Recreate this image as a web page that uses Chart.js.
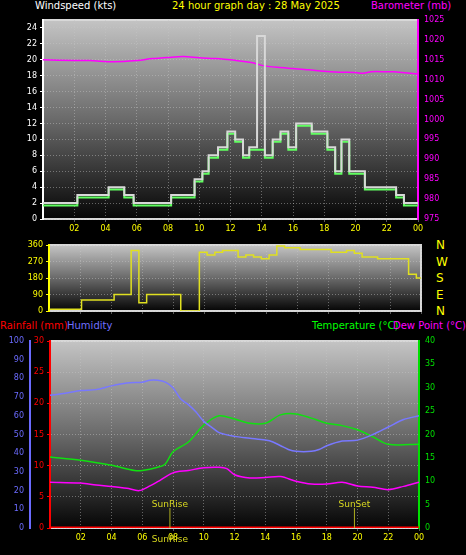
<!DOCTYPE html>
<html><head><meta charset="utf-8">
<script src="https://cdn.jsdelivr.net/npm/chart.js@4/dist/chart.umd.min.js"></script>
<style>
body{margin:0;background:#000;width:466px;height:555px;overflow:hidden;position:relative;font-family:"DejaVu Sans",sans-serif}
.c{position:absolute;left:0}
.t{position:absolute;font-size:10px;white-space:nowrap}
</style></head><body>
<div class="t" style="left:35px;top:0px;color:#fff">Windspeed (kts)</div>
<div class="t" style="left:172px;top:0px;color:#ffff00">24 hour graph day : 28 May 2025</div>
<div class="t" style="left:371px;top:0px;color:#ff00ff">Barometer (mb)</div>
<div class="t" style="left:0px;top:320px;color:#ff0000">Rainfall (mm)</div>
<div class="t" style="left:67px;top:320px;color:#7070ff">Humidity</div>
<div class="t" style="left:312px;top:320px;color:#00ff00">Temperature (°C)</div>
<div class="t" style="left:393px;top:320px;color:#ff00ff">Dew Point (°C)</div>
<div class="t" style="left:436px;top:237px;color:#ffff00;font-size:12px;line-height:16.5px">N<br>W<br>S<br>E<br>N</div>
<div class="c" style="top:0;width:466px;height:240px"><canvas id="c1"></canvas></div>
<div class="c" style="top:235px;width:466px;height:85px"><canvas id="c2"></canvas></div>
<div class="c" style="top:333px;width:466px;height:222px"><canvas id="c3"></canvas></div>
<script>
const windTimes=[0,2.2,4.2,5.2,5.8,8.2,9.7,10.2,10.6,11.2,11.8,12.3,12.8,13.2,14.2,14.7,15.2,15.7,16.2,17.2,18.2,18.7,19.1,19.6,20.6,22.6,23.1,24];
const windAvg=[1.7,2.7,3.7,2.7,1.7,2.7,4.7,5.7,7.7,8.7,10.7,9.7,7.7,8.7,7.7,9.7,10.7,8.7,11.7,10.7,8.7,5.7,9.7,5.7,3.7,2.7,1.7,1.7];
const gustTimes=[0,2.2,4.2,5.2,5.8,8.2,9.7,10.2,10.6,11.2,11.8,12.3,12.8,13.2,13.7,14.2,14.7,15.2,15.7,16.2,17.2,18.2,18.7,19.1,19.6,20.6,22.6,23.1,24];
const windGust=[2,3,4,3,2,3,5,6,8,9,11,10,8,9,23,8,10,11,9,12,11,9,6,10,6,4,3,2,2];
const baroTimes=[0,2,3,4.5,6,7,8,9,10,11,12,13,13.5,14,15,16,17,18,19,20,20.5,21,22,22.5,23,24];
const baroVals=[1015,1014.8,1014.8,1014.5,1014.8,1015.3,1015.6,1015.8,1015.5,1015.3,1015,1014.5,1014.2,1013.6,1013.1,1012.8,1012.5,1012.1,1011.9,1011.8,1011.6,1012,1012,1012,1011.8,1011.4];
const dirTimes=[0,2.1,4.2,5.3,5.8,6.3,8.5,9.7,10.2,10.7,11.2,12.2,12.7,13.2,13.7,14.2,14.7,15.2,16.2,18.2,19.2,19.7,20.2,21.2,23.2,23.7,24];
const dirVals=[10,60,90,330,45,90,0,320,305,320,330,295,305,295,285,305,355,345,335,320,330,315,295,285,200,180,180];
const humTimes=[0,1,2,3,4,5,6,6.5,7,7.5,8,8.5,9,9.5,10,10.5,11,12,13,14,14.5,15,15.5,16,17,17.5,18,19,20,21,22,23,24];
const humVals=[71,72,73.5,74,76,77.5,78,79,79,78,75,69,66,62,57,54,51,49,48,47,46,44,42,41,41,42,44,46.5,47,50,54,58,60];
const tempTimes=[0,2,4,5.5,6,7,7.5,8,9,10,11,12,13,14,15,16,17,18,19,20,21,22,24];
const tempVals=[15.2,14.5,13.4,12.3,12.3,13,13.7,16.3,18.4,22,24,23.3,22.4,22.4,24.2,24.4,23.5,22.4,21.9,21,19.5,17.9,17.9];
const dewTimes=[0,2,3,4,5,5.8,6.5,7,8,9,10,11,11.5,12,13,14,15,16,17,18,19,20,21,22,23,24];
const dewVals=[9.8,9.6,9.2,8.9,8.5,8,9,9.9,11.8,12.3,12.9,13,12.7,11.4,10.7,10.8,11,10,9.4,9.4,9.8,9,8.7,8.2,8.9,9.8];
const rainTimes=[0,24];
const rainVals=[0,0];
const hourTicks=[2,4,6,8,10,12,14,16,18,20,22,24];
const windTicks=[0,2,4,6,8,10,12,14,16,18,20,22,24];
const sunEvents=[7.8,19.8];
const sunLabels=['SunRise','SunSet'];

const pts=(t,v)=>t.map((x,i)=>({x,y:v[i]}));
const hourLbl=v=>(v>0&&v%2===0)?String(v%24).padStart(2,'0'):'';
const bg={id:'bg',beforeDraw(c){const a=c.chartArea,x=c.ctx;const g=x.createLinearGradient(0,a.top,0,a.bottom);g.addColorStop(0,'#c4c4c4');g.addColorStop(0.5,'#6a6a6a');g.addColorStop(1,'#050505');x.save();x.fillStyle=g;x.fillRect(a.left,a.top,a.right-a.left,a.bottom-a.top);x.strokeStyle='#d8d8d8';x.lineWidth=2;x.strokeRect(a.left,a.top,a.right-a.left,a.bottom-a.top);x.restore();}};
const F={family:'DejaVu Sans',size:8};
const grid={color:'rgba(200,200,200,0.45)',drawTicks:true,tickLength:3};
function xAxis(h,show){return {type:'linear',min:0,max:24,afterBuildTicks(s){s.ticks=hourTicks.map(v=>({value:v}));},
 ticks:{display:show,color:'#ffff00',font:F,autoSkip:false,maxRotation:0,callback:hourLbl,padding:2},
 grid:grid,border:{dash:[1,2],display:false},afterFit(s){s.height=h;}};}
function yAxis(pos,w,min,max,step,col,dispGrid){return {type:'linear',position:pos,min,max,
 ticks:{stepSize:step,color:col,font:F,padding:3,callback:v=>String(v)},grid:{display:dispGrid,color:'rgba(200,200,200,0.45)',tickColor:col,tickLength:3},
 border:{display:true,color:col,width:2,dash:[1,2]},afterFit(s){s.width=w;}};}
const common={responsive:true,maintainAspectRatio:false,animation:false,plugins:{legend:{display:false},tooltip:{enabled:false}},elements:{point:{radius:0}}};

const yWind=yAxis('left',43,0,25,2,'#ffffff',true);
yWind.afterBuildTicks=s=>{s.ticks=windTicks.map(v=>({value:v}));};
new Chart(document.getElementById('c1'),{type:'line',data:{datasets:[
 {data:pts(gustTimes,windGust),borderColor:'#d8d8d8',borderWidth:2,stepped:'before',yAxisID:'y'},
 {data:pts(windTimes,windAvg),borderColor:'#60ff60',borderWidth:2,stepped:'before',yAxisID:'y'},
 {data:pts(baroTimes,baroVals),borderColor:'#ff00ff',borderWidth:1.5,tension:0.3,yAxisID:'y2'}]},
 options:{...common,layout:{padding:{top:20}},scales:{x:xAxis(21,true),
  y:yWind,y2:yAxis('right',48,975,1025,5,'#ff00ff',false)}},plugins:[bg]});

new Chart(document.getElementById('c2'),{type:'line',data:{datasets:[
 {data:pts(dirTimes,dirVals),borderColor:'#e0e020',borderWidth:1.5,stepped:'before'}]},
 options:{...common,layout:{padding:{top:10,right:45}},scales:{x:xAxis(9,false),
  y:yAxis('left',49,0,360,90,'#ffff00',true)}},plugins:[bg]});

const sun={id:'sun',afterDatasetsDraw(c){const x=c.ctx,a=c.chartArea,sx=c.scales.x;x.save();x.font='9px DejaVu Sans';x.fillStyle='#d8d820';x.strokeStyle='#b0b020';x.textAlign='center';
 sunEvents.forEach((t,i)=>{const px=sx.getPixelForValue(t);x.beginPath();x.moveTo(px,a.bottom);x.lineTo(px,a.bottom-20);x.stroke();x.fillText(sunLabels[i],px,a.bottom-21);});
 x.fillText(sunLabels[0],sx.getPixelForValue(sunEvents[0]),a.bottom+14);x.restore();}};
new Chart(document.getElementById('c3'),{type:'line',data:{datasets:[
 {data:pts(rainTimes,rainVals),borderColor:'#ff0000',borderWidth:3,yAxisID:'yr'},
 {data:pts(humTimes,humVals),borderColor:'#7878ff',borderWidth:1.5,tension:0.3,yAxisID:'yh'},
 {data:pts(tempTimes,tempVals),borderColor:'#10e010',borderWidth:1.5,tension:0.3,yAxisID:'yt'},
 {data:pts(dewTimes,dewVals),borderColor:'#ff00ff',borderWidth:1.5,tension:0.3,yAxisID:'yt'}]},
 options:{...common,layout:{padding:{top:8}},scales:{x:xAxis(27,true),
  yr:yAxis('left',20,0,30,5,'#ff0000',true),yh:yAxis('left',30,0,100,10,'#6b6bff',false),
  yt:yAxis('right',47,0,40,5,'#00e000',false)}},plugins:[bg,sun]});
</script></body></html>
